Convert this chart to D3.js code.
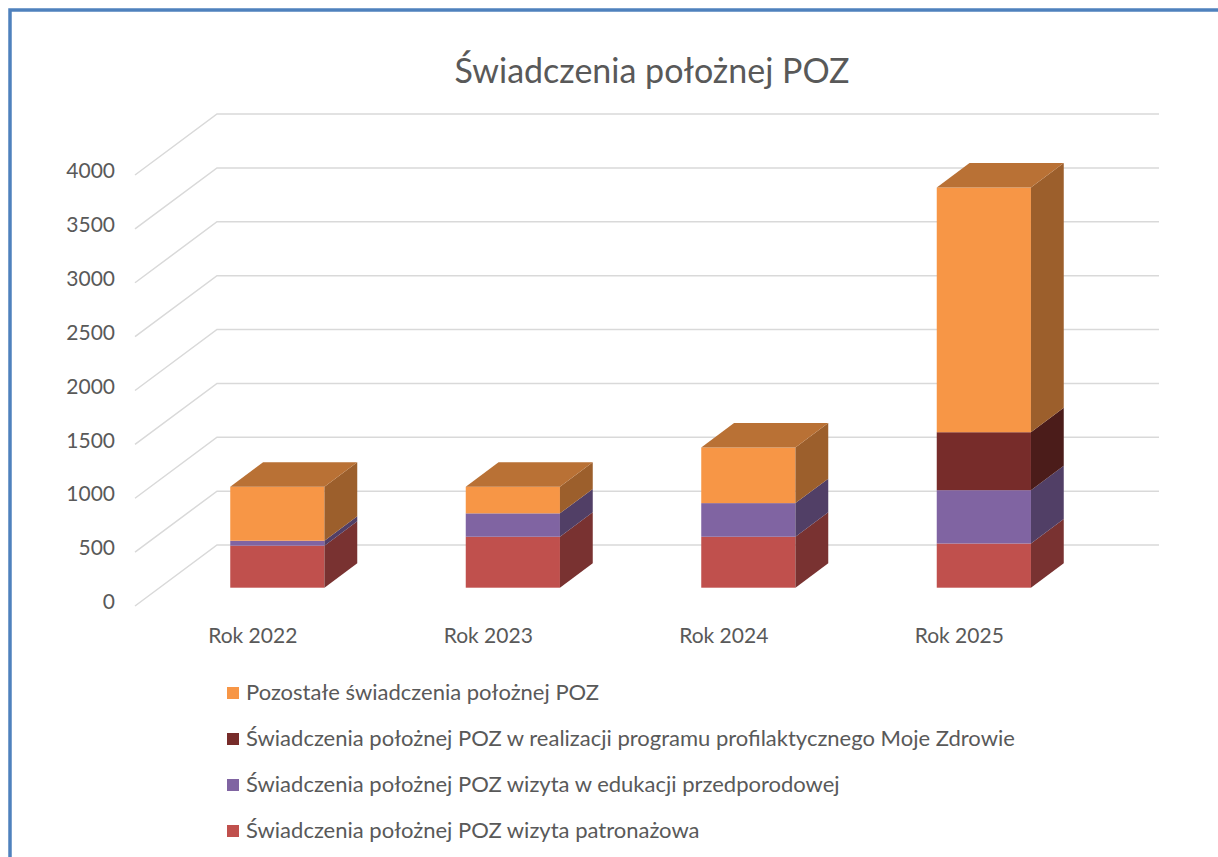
<!DOCTYPE html>
<html>
<head>
<meta charset="utf-8">
<script src="https://cdn.jsdelivr.net/npm/d3@7"></script>
<style>
  html, body { margin: 0; padding: 0; background: #fff; }
  svg text { font-family: Lato, "Open Sans", sans-serif; fill: #595959; }
</style>
</head>
<body>
<svg id="graph" width="1218" height="857"></svg>
<script>
const categories = ['Rok 2022', 'Rok 2023', 'Rok 2024', 'Rok 2025'];
const patronazowa = [390, 473, 473, 410];
const edukacja = [46, 217, 312, 495];
const mojeZdrowie = [0, 0, 0, 538];
const pozostale = [501, 247, 516, 2271];
const yTicks = [0, 500, 1000, 1500, 2000, 2500, 3000, 3500, 4000];

// kolejność stosu od dołu do góry
const series = [
  { name: 'Świadczenia położnej POZ wizyta patronażowa', values: patronazowa, color: '#C0504D' },
  { name: 'Świadczenia położnej POZ wizyta w edukacji przedporodowej', values: edukacja, color: '#8064A2' },
  { name: 'Świadczenia położnej POZ w realizacji programu profilaktycznego Moje Zdrowie', values: mojeZdrowie, color: '#772C2A' },
  { name: 'Pozostałe świadczenia położnej POZ', values: pozostale, color: '#F79646' }
];

const svg = d3.select('#graph');

// ramka (lewa i górna krawędź)
svg.append('path')
  .attr('d', 'M10,857 L10,10 L1218,10')
  .attr('fill', 'none')
  .attr('stroke', '#4F81BD')
  .attr('stroke-width', 3.5);

svg.append('text')
  .attr('x', 652)
  .attr('y', 83)
  .attr('text-anchor', 'middle')
  .style('font-size', '34px')
  .text('Świadczenia położnej POZ');

// przód wykresu, głębia dodawana jako przesunięcie
const xScale = d3.scaleBand()
  .domain(categories)
  .range([135, 1077]);

const yScale = d3.scaleLinear()
  .domain([0, 4000])
  .range([606, 175]);

const depthX = d3.scaleLinear().domain([0, 1]).range([0, 82]);
const depthY = d3.scaleLinear().domain([0, 1]).range([0, -61]);

const backRight = 1159;

// siatka: linie tylnej ściany + skosy podłogi/boku
const grid = svg.append('g').attr('stroke', '#D9D9D9').attr('stroke-width', 1.5).attr('fill', 'none');
grid.selectAll('path')
  .data(yTicks)
  .enter()
  .append('path')
  .attr('d', (d) => {
    const x0 = xScale.range()[0];
    const y0 = yScale(d);
    return `M${x0},${y0} L${x0 + depthX(1)},${y0 + depthY(1)} L${backRight},${y0 + depthY(1)}`;
  });

// oś Y
svg.append('g')
  .attr('transform', 'translate(123, -4)')
  .call(d3.axisLeft(yScale).tickValues(yTicks).tickFormat(d3.format('d')).tickSize(0).tickPadding(8))
  .call((g) => g.select('.domain').remove())
  .selectAll('text')
  .style('font-size', '21px')
  .style('font-family', 'Lato, sans-serif')
  .attr('fill', '#595959');

// oś X
svg.selectAll('.xlab')
  .data(categories)
  .enter()
  .append('text')
  .attr('class', 'xlab')
  .attr('x', (d) => xScale(d) + xScale.bandwidth() / 2)
  .attr('y', 643)
  .attr('text-anchor', 'middle')
  .style('font-size', '21px')
  .text((d) => d);

// słupki 3D
const gap = 1.5;
const barW = xScale.bandwidth() / (1 + gap);
const z0 = 0.3, z1 = 0.7;

function shade(c, k) {
  const col = d3.rgb(c);
  return d3.rgb(col.r * k, col.g * k, col.b * k).formatHex();
}

const stack = [];
categories.forEach((cat, i) => {
  let base = 0;
  series.forEach((s, si) => {
    const v = s.values[i];
    if (v > 0) {
      stack.push({ cat, v0: base, v1: base + v, color: s.color, si });
    }
    base += v;
  });
  stack[stack.length - 1].top = true;
});

const bars = svg.append('g');

stack.forEach((d) => {
  const cx = xScale(d.cat) + xScale.bandwidth() / 2;
  const xl = cx - barW / 2 + depthX(z0);
  const xr = cx + barW / 2 + depthX(z0);
  const yb = yScale(d.v0) + depthY(z0);
  const yt = yScale(d.v1) + depthY(z0);
  const dx = depthX(z1) - depthX(z0);
  const dy = depthY(z1) - depthY(z0);

  bars.append('rect')
    .attr('x', xl)
    .attr('y', yt)
    .attr('width', xr - xl)
    .attr('height', yb - yt)
    .attr('fill', d.color);

  bars.append('path')
    .attr('d', `M${xr},${yb} L${xr + dx},${yb + dy} L${xr + dx},${yt + dy} L${xr},${yt} Z`)
    .attr('fill', shade(d.color, 0.63));

  if (d.top) {
    bars.append('path')
      .attr('d', `M${xl},${yt} L${xl + dx},${yt + dy} L${xr + dx},${yt + dy} L${xr},${yt} Z`)
      .attr('fill', shade(d.color, 0.75));
  }
});

// legenda
const legendSeries = series.slice().reverse();
const legend = svg.append('g');
legend.selectAll('rect')
  .data(legendSeries)
  .enter()
  .append('rect')
  .attr('x', 227)
  .attr('y', (d, i) => 687 + i * 46)
  .attr('width', 12)
  .attr('height', 12)
  .attr('fill', (d) => d.color);

legend.selectAll('text')
  .data(legendSeries)
  .enter()
  .append('text')
  .attr('x', 246)
  .attr('y', (d, i) => 700 + i * 46)
  .style('font-size', '22px')
  .text((d) => d.name);
</script>
</body>
</html>
